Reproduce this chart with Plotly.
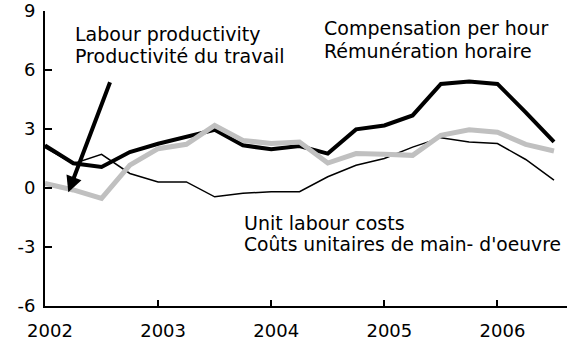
import plotly.graph_objects as go

# Quarterly observations, 2002Q1 - 2006Q3 (year-on-year % change)
quarters = [2002 + q / 4 for q in range(19)]
compensation = [2.17, 1.26, 1.07, 1.83, 2.25, 2.59, 2.96, 2.17, 1.97, 2.13,
                1.75, 2.98, 3.18, 3.69, 5.29, 5.41, 5.29, 3.85, 2.34]
productivity = [2.05, 1.24, 1.71, 0.74, 0.31, 0.31, -0.45, -0.27, -0.19, -0.19,
                0.57, 1.16, 1.50, 2.08, 2.56, 2.34, 2.26, 1.45, 0.40]
unit_labour = [0.23, -0.10, -0.53, 1.16, 2.00, 2.22, 3.18, 2.42, 2.26, 2.34,
               1.27, 1.75, 1.71, 1.66, 2.68, 2.96, 2.84, 2.22, 1.88]

year_ticks = [2002, 2003, 2004, 2005, 2006]
year_labels = ["2002", "2003", "2004", "2005", "2006"]
y_ticks = [-6, -3, 0, 3, 6, 9]
y_labels = ["-6", "-3", "0", "3", "6", "9"]

FONT = "DejaVu Sans"

fig = go.Figure()
fig.add_trace(go.Scatter(x=quarters, y=productivity, mode="lines",
                         line=dict(color="black", width=1.5)))
fig.add_trace(go.Scatter(x=quarters, y=compensation, mode="lines",
                         line=dict(color="black", width=4)))
fig.add_trace(go.Scatter(x=quarters, y=unit_labour, mode="lines",
                         line=dict(color="#c0c0c0", width=5)))

labels = [
    ("Labour productivity", 2002.25, 7.82, 19),
    ("Productivité du travail", 2002.25, 6.72, 19),
    ("Compensation per hour", 2004.445, 8.16, 19),
    ("Rémunération horaire", 2004.445, 6.96, 19),
    ("Unit labour costs", 2003.745, -1.79, 19),
    ("Coûts unitaires de main- d'oeuvre", 2003.745, -2.88, 18.7),
]
for text, x, y, size in labels:
    fig.add_annotation(x=x, y=y, text=text, showarrow=False,
                       xanchor="left", yanchor="middle",
                       font=dict(family=FONT, size=size, color="black"))

# pointer from the productivity label to its line
fig.add_annotation(x=2002.206, y=-0.22, ax=2002.58, ay=5.45,
                   xref="x", yref="y", axref="x", ayref="y",
                   text="", showarrow=True, arrowhead=2, arrowsize=0.8,
                   arrowwidth=4, arrowcolor="black", standoff=0)

fig.update_layout(
    width=567, height=341,
    margin=dict(l=45, r=0, t=10, b=34),
    paper_bgcolor="white", plot_bgcolor="white",
    showlegend=False,
    font=dict(family=FONT, size=18, color="black"),
)
fig.update_xaxes(range=[2002, 2006.615], tickvals=year_ticks, ticktext=year_labels,
                 ticks="inside", ticklen=6, tickwidth=2, tickcolor="black",
                 showline=True, linecolor="black", linewidth=2,
                 showgrid=False, zeroline=False, ticklabelshift=5,
                 ticklabelstandoff=7, ticklabeloverflow="allow",
                 tickfont=dict(family=FONT, size=18))
fig.update_yaxes(range=[-6, 9], tickvals=y_ticks, ticktext=y_labels,
                 ticks="inside", ticklen=7, tickwidth=2, tickcolor="black",
                 showline=True, linecolor="black", linewidth=2,
                 showgrid=False, zeroline=False, ticklabelstandoff=4,
                 ticklabeloverflow="allow",
                 tickfont=dict(family=FONT, size=18))

fig.write_html("out.html")
